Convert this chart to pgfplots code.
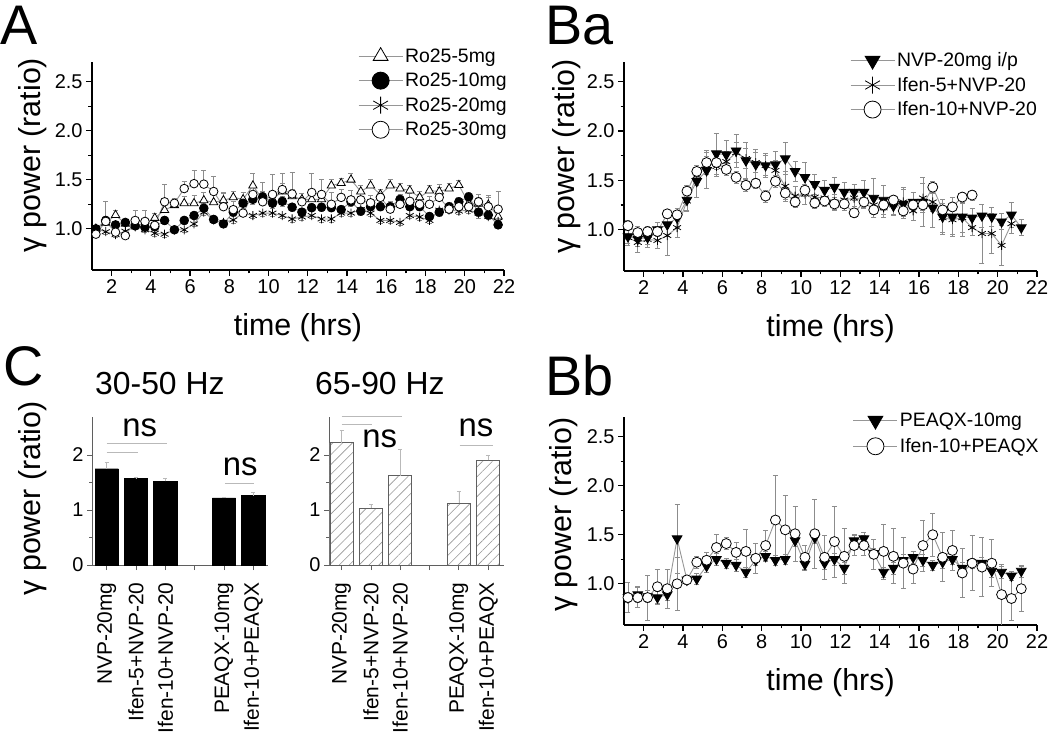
\documentclass[border=0pt]{standalone}
\usepackage{fontspec}
\setmainfont{Liberation Sans}
\usepackage{pgfplots}
\pgfplotsset{compat=1.18}
\usepackage{pgfplotstable}
\usetikzlibrary{patterns.meta}
\definecolor{lgray}{RGB}{150,150,150}
\definecolor{egray}{RGB}{140,140,140}
\definecolor{cgray}{RGB}{95,95,95}
\definecolor{vlgray}{RGB}{185,185,185}
\newcommand{\fs}[1]{\fontsize{#1}{#1}\selectfont}

% ---------------- Panel A ----------------
\pgfplotstableread{
x y e
1.2 1.00 0.04
1.7 1.06 0.05
2.2 1.14 0.05
2.7 1.05 0.05
3.2 1.04 0.06
3.7 1.05 0.06
4.2 1.11 0.05
4.7 1.19 0.06
5.2 1.24 0.06
5.7 1.26 0.07
6.2 1.26 0.08
6.7 1.29 0.08
7.2 1.27 0.08
7.7 1.29 0.07
8.2 1.32 0.06
8.7 1.30 0.07
9.2 1.44 0.12
9.7 1.30 0.08
10.2 1.30 0.07
10.7 1.38 0.08
11.2 1.33 0.07
11.7 1.30 0.06
12.2 1.30 0.07
12.7 1.30 0.08
13.2 1.44 0.06
13.7 1.465 0.05
14.2 1.50 0.06
14.7 1.38 0.06
15.2 1.44 0.06
15.7 1.35 0.05
16.2 1.44 0.06
16.7 1.41 0.05
17.2 1.39 0.05
17.7 1.32 0.06
18.2 1.39 0.05
18.7 1.38 0.07
19.2 1.41 0.05
19.7 1.445 0.05
20.2 1.26 0.06
20.7 1.255 0.07
21.2 1.245 0.08
21.7 1.125 0.06
}\roA
\pgfplotstableread{
x y e
1.2 1.00 0.03
1.7 1.085 0.04
2.2 1.04 0.03
2.7 1.065 0.03
3.2 1.03 0.03
3.7 1.015 0.03
4.2 1.02 0.03
4.7 1.085 0.04
5.2 0.99 0.03
5.7 1.085 0.04
6.2 1.135 0.04
6.7 1.21 0.05
7.2 1.095 0.04
7.7 1.05 0.04
8.2 1.17 0.04
8.7 1.26 0.05
9.2 1.30 0.05
9.7 1.325 0.05
10.2 1.26 0.05
10.7 1.28 0.05
11.2 1.22 0.04
11.7 1.17 0.04
12.2 1.215 0.04
12.7 1.22 0.04
13.2 1.215 0.04
13.7 1.195 0.04
14.2 1.275 0.05
14.7 1.18 0.04
15.2 1.225 0.04
15.7 1.225 0.04
16.2 1.225 0.04
16.7 1.30 0.05
17.2 1.225 0.04
17.7 1.225 0.04
18.2 1.125 0.04
18.7 1.17 0.04
19.2 1.225 0.04
19.7 1.275 0.05
20.2 1.325 0.05
20.7 1.17 0.06
21.2 1.14 0.04
21.7 1.04 0.04
}\roB
\pgfplotstableread{
x y e
1.2 1.00 0.03
1.7 0.97 0.03
2.2 0.94 0.03
2.7 0.975 0.03
3.2 1.02 0.03
3.7 0.99 0.03
4.2 0.955 0.03
4.7 0.945 0.03
5.2 0.99 0.03
5.7 0.99 0.03
6.2 1.05 0.03
6.7 1.17 0.03
7.2 1.09 0.03
7.7 1.065 0.03
8.2 1.09 0.03
8.7 1.16 0.03
9.2 1.135 0.03
9.7 1.16 0.03
10.2 1.16 0.03
10.7 1.135 0.03
11.2 1.10 0.03
11.7 1.12 0.03
12.2 1.135 0.03
12.7 1.10 0.03
13.2 1.10 0.03
13.7 1.16 0.03
14.2 1.16 0.03
14.7 1.195 0.03
15.2 1.16 0.03
15.7 1.085 0.03
16.2 1.085 0.03
16.7 1.065 0.03
17.2 1.135 0.03
17.7 1.12 0.03
18.2 1.085 0.03
18.7 1.19 0.03
19.2 1.19 0.03
19.7 1.18 0.03
20.2 1.19 0.03
20.7 1.16 0.03
21.2 1.125 0.03
21.7 1.075 0.03
}\roC
\pgfplotstableread{
x y e
1.2 0.945 0.05
1.7 1.075 0.20
2.2 0.965 0.05
2.7 0.93 0.05
3.2 1.085 0.10
3.7 1.075 0.11
4.2 1.035 0.05
4.7 1.275 0.18
5.2 1.26 0.05
5.7 1.41 0.07
6.2 1.46 0.14
6.7 1.455 0.14
7.2 1.38 0.15
7.7 1.225 0.15
8.2 1.195 0.08
8.7 1.16 0.05
9.2 1.35 0.10
9.7 1.275 0.20
10.2 1.35 0.20
10.7 1.40 0.17
11.2 1.355 0.22
11.7 1.275 0.05
12.2 1.37 0.20
12.7 1.35 0.15
13.2 1.25 0.12
13.7 1.32 0.08
14.2 1.295 0.10
14.7 1.295 0.07
15.2 1.265 0.08
15.7 1.32 0.05
16.2 1.20 0.08
16.7 1.25 0.10
17.2 1.28 0.08
17.7 1.25 0.10
18.2 1.25 0.08
18.7 1.32 0.10
19.2 1.20 0.05
19.7 1.225 0.05
20.2 1.225 0.08
20.7 1.275 0.08
21.2 1.225 0.12
21.7 1.20 0.18
}\roD

% ---------------- Panel Ba ----------------
\pgfplotstableread{
x y e
1.2 0.93 0.07
1.7 0.905 0.08
2.2 0.92 0.07
2.7 1.00 0.07
3.2 1.05 0.12
3.7 1.12 0.10
4.2 1.30 0.10
4.7 1.49 0.16
5.2 1.60 0.18
5.7 1.77 0.21
6.2 1.76 0.15
6.7 1.80 0.17
7.2 1.70 0.18
7.7 1.66 0.15
8.2 1.65 0.12
8.7 1.66 0.13
9.2 1.72 0.16
9.7 1.59 0.10
10.2 1.53 0.15
10.7 1.46 0.10
11.2 1.40 0.10
11.7 1.43 0.10
12.2 1.38 0.10
12.7 1.38 0.08
13.2 1.38 0.12
13.7 1.32 0.20
14.2 1.30 0.15
14.7 1.24 0.10
15.2 1.26 0.15
15.7 1.28 0.10
16.2 1.28 0.25
16.7 1.22 0.20
17.2 1.13 0.18
17.7 1.13 0.20
18.2 1.13 0.20
18.7 1.12 0.10
19.2 1.14 0.12
19.7 1.13 0.10
20.2 1.08 0.08
20.7 1.15 0.13
21.2 1.02 0.08
}\nvp
\pgfplotstableread{
x y e
1.2 0.92 0.08
1.7 0.87 0.10
2.2 0.90 0.08
2.7 0.89 0.08
3.2 0.94 0.20
3.7 1.02 0.10
4.2 1.29 0.10
4.7 1.55 0.10
5.2 1.68 0.12
5.7 1.64 0.10
6.2 1.69 0.10
6.7 1.78 0.10
7.2 1.72 0.10
7.7 1.68 0.10
8.2 1.65 0.10
8.7 1.60 0.10
9.2 1.44 0.15
9.7 1.34 0.10
10.2 1.36 0.10
10.7 1.33 0.10
11.2 1.32 0.08
11.7 1.28 0.08
12.2 1.30 0.08
12.7 1.32 0.08
13.2 1.30 0.08
13.7 1.25 0.10
14.2 1.22 0.10
14.7 1.25 0.10
15.2 1.28 0.15
15.7 1.19 0.10
16.2 1.32 0.15
16.7 1.28 0.10
17.2 1.12 0.15
17.7 1.10 0.15
18.2 1.12 0.15
18.7 1.02 0.08
19.2 0.96 0.30
19.7 0.96 0.20
20.2 0.84 0.20
20.7 1.06 0.10
}\ifenfive
\pgfplotstableread{
x y e
1.2 1.04 0.05
1.7 0.97 0.06
2.2 0.98 0.05
2.7 0.98 0.05
3.2 1.16 0.05
3.7 1.15 0.05
4.2 1.39 0.06
4.7 1.59 0.06
5.2 1.68 0.06
5.7 1.68 0.07
6.2 1.61 0.06
6.7 1.53 0.06
7.2 1.45 0.06
7.7 1.47 0.05
8.2 1.34 0.06
8.7 1.49 0.06
9.2 1.37 0.06
9.7 1.28 0.05
10.2 1.40 0.06
10.7 1.27 0.05
11.2 1.29 0.05
11.7 1.26 0.05
12.2 1.26 0.06
12.7 1.17 0.05
13.2 1.28 0.05
13.7 1.20 0.05
14.2 1.25 0.05
14.7 1.30 0.05
15.2 1.19 0.05
15.7 1.25 0.05
16.2 1.25 0.05
16.7 1.43 0.06
17.2 1.20 0.05
17.7 1.23 0.05
18.2 1.33 0.05
18.7 1.35 0.05
}\ifenten

% ---------------- Panel Bb ----------------
\pgfplotstableread{
x y e
1.2 0.86 0.05
1.7 0.89 0.08
2.2 0.87 0.06
2.7 0.86 0.06
3.2 0.89 0.06
3.7 1.46 0.35
4.2 1.04 0.04
4.7 1.05 0.06
5.2 1.18 0.06
5.7 1.25 0.06
6.2 1.21 0.05
6.7 1.19 0.06
7.2 1.12 0.05
7.7 1.24 0.05
8.2 1.28 0.05
8.7 1.24 0.05
9.2 1.25 0.05
9.7 1.44 0.06
10.2 1.20 0.06
10.7 1.47 0.06
11.2 1.21 0.06
11.7 1.25 0.06
12.2 1.16 0.06
12.7 1.44 0.06
13.2 1.46 0.06
13.7 1.31 0.05
14.2 1.12 0.05
14.7 1.16 0.06
15.2 1.24 0.06
15.7 1.27 0.06
16.2 1.24 0.06
16.7 1.19 0.05
17.2 1.22 0.06
17.7 1.25 0.05
18.2 1.16 0.06
18.7 1.21 0.05
19.2 1.21 0.06
19.7 1.13 0.06
20.2 1.12 0.06
20.7 1.08 0.05
21.2 1.13 0.06
}\peaqx
\pgfplotstableread{
x y e
1.2 0.86 0.15
1.7 0.86 0.10
2.2 0.86 0.23
2.7 0.97 0.18
3.2 0.95 0.20
3.7 1.00 0.27
4.2 1.04 0.05
4.7 1.22 0.06
5.2 1.24 0.08
5.7 1.37 0.13
6.2 1.41 0.06
6.7 1.32 0.10
7.2 1.33 0.22
7.7 1.26 0.15
8.2 1.39 0.15
8.7 1.65 0.46
9.2 1.55 0.35
9.7 1.51 0.28
10.2 1.27 0.12
10.7 1.51 0.35
11.2 1.27 0.22
11.7 1.43 0.36
12.2 1.28 0.28
12.7 1.39 0.10
13.2 1.39 0.10
13.7 1.30 0.15
14.2 1.33 0.28
14.7 1.28 0.28
15.2 1.21 0.26
15.7 1.15 0.15
16.2 1.39 0.26
16.7 1.50 0.22
17.2 1.27 0.25
17.7 1.34 0.20
18.2 1.11 0.25
18.7 1.21 0.28
19.2 1.17 0.30
19.7 1.21 0.24
20.2 0.89 0.31
20.7 0.85 0.22
21.2 0.95 0.23
}\ifenpeaqx

% ---------------- Panel C ----------------
\pgfplotstableread{
x y e
1 1.75 0.12
2 1.57 0.03
3 1.52 0.05
5 1.22 0.01
6 1.26 0.06
}\lowgamma
\pgfplotstableread{
x y e
1 2.22 0.22
2 1.03 0.07
3 1.62 0.48
5 1.12 0.22
6 1.90 0.10
}\highgamma

\pgfplotsset{
  base/.style={
    scale only axis,
    axis x line*=bottom, axis y line*=left,
    axis line style={-, line width=1.5bp, black},
    tick align=outside,
    major tick length=6bp, minor tick length=3.5bp,
    every tick/.style={black, line width=1.2bp},
    /pgf/number format/assume math mode=true,
    tick label style={font=\fs{20}},
    label style={font=\fs{30.5}},
  },
  tcstyle/.style={
    base,
    xmin=1, xmax=22, ymin=0.58, ymax=2.7,
    xtick={2,4,...,22}, minor x tick num=1,
    ytick={1,1.5,2,2.5}, minor y tick num=1,
    yticklabel style={/pgf/number format/.cd, fixed, fixed zerofill, precision=1},
    xlabel={time (hrs)},
    ylabel={γ power (ratio)},
    xlabel style={at={(axis description cs:0.5,-0.315)}, anchor=base},
    legend cell align=left,
    legend image code/.code={\draw[mark repeat=2,mark phase=2,##1,mark size=8.5bp] plot coordinates {(0bp,0bp)(22bp,0bp)(44bp,0bp)};},
  },
  cstyle/.style={
    base,
    axis line style={-, line width=1bp, cgray},
    every tick/.style={cgray, line width=0.8bp},
    major tick length=5bp, minor tick length=3bp,
    ymin=0, ymax=2.69,
    ytick={0,1,2}, minor y tick num=1,
    xtick={1,...,6},
    xticklabels={NVP-20mg, Ifen-5+NVP-20, Ifen-10+NVP-20, , PEAQX-10mg, Ifen-10+PEAQX},
    xticklabel style={rotate=90, anchor=east, font=\fs{21}},
    xticklabel shift={9bp},
    clip=false,
  },
  ln/.style={draw=lgray, line width=0.9bp},
  ebars/.style={error bars/.cd, y dir=#1, y explicit,
    error bar style={egray, line width=0.7bp},
    error mark options={rotate=90, egray, mark size=2.5bp, line width=0.7bp}},
  mopentri/.style={mark=triangle*, mark size=4.8bp, mark options={fill=white, draw=black, line width=0.8bp}},
  mfillcirc/.style={mark=*, mark size=4.3bp, mark options={fill=black, draw=black}},
  mast/.style={mark=asterisk, mark size=4.5bp, mark options={draw=black, line width=0.8bp}},
  mopencirc/.style={mark=*, mark size=4.3bp, mark options={fill=white, draw=black, line width=0.8bp}},
  mdowntri/.style={mark=triangle*, mark size=5.5bp, mark options={rotate=180, fill=black, draw=black}},
}

\begin{document}
\begin{tikzpicture}
\path[use as bounding box] (0bp,0bp) rectangle (1050bp,736bp);

% panel letters and titles
\node[anchor=base west, inner sep=0pt, font=\fs{56}] at (0bp,691bp) {A};
\node[anchor=base west, inner sep=0pt, font=\fs{56}] at (545bp,691bp) {Ba};
\node[anchor=base west, inner sep=0pt, font=\fs{56}] at (3bp,350bp) {C};
\node[anchor=base west, inner sep=0pt, font=\fs{56}] at (545bp,340bp) {Bb};
\node[anchor=base west, inner sep=0pt, font=\fs{32}] at (95bp,341bp) {30-50 Hz};
\node[anchor=base west, inner sep=0pt, font=\fs{32}] at (315bp,341bp) {65-90 Hz};

% ---------------- A ----------------
\begin{axis}[tcstyle, at={(92bp,466bp)}, anchor=south west, width=412bp, height=208bp,
  ylabel style={at={(axis description cs:-0.143,0.553)}, anchor=center},
  legend style={draw=none, fill=none, at={(0.6456,1.075)}, anchor=north west,
    font=\fs{19.5}, inner sep=0pt, row sep=5.5bp,
    /tikz/every even column/.append style={column sep=4bp}}]
\addplot[ln, mopentri, ebars=plus] table[x=x, y=y, y error=e] {\roA};
\addlegendentry{Ro25-5mg}
\addplot[ln, mfillcirc, ebars=both] table[x=x, y=y, y error=e] {\roB};
\addlegendentry{Ro25-10mg}
\addplot[ln, mast, ebars=minus] table[x=x, y=y, y error=e] {\roC};
\addlegendentry{Ro25-20mg}
\addplot[ln, mopencirc, ebars=plus] table[x=x, y=y, y error=e] {\roD};
\addlegendentry{Ro25-30mg}
\end{axis}

% ---------------- Ba ----------------
\begin{axis}[tcstyle, at={(624bp,465bp)}, anchor=south west, width=413bp, height=209bp,
  ylabel style={at={(axis description cs:-0.140,0.55)}, anchor=center},
  legend style={draw=none, fill=none, at={(0.547,1.055)}, anchor=north west,
    font=\fs{19.5}, inner sep=0pt, row sep=5bp,
    /tikz/every even column/.append style={column sep=4bp}}]
\addplot[ln, mdowntri, ebars=both] table[x=x, y=y, y error=e] {\nvp};
\addlegendentry{NVP-20mg i/p}
\addplot[ln, mast, ebars=both] table[x=x, y=y, y error=e] {\ifenfive};
\addlegendentry{Ifen-5+NVP-20}
\addplot[ln, mopencirc, mark size=5bp, ebars=both] table[x=x, y=y, y error=e] {\ifenten};
\addlegendentry{Ifen-10+NVP-20}
\end{axis}

% ---------------- Bb ----------------
\begin{axis}[tcstyle, at={(624bp,111bp)}, anchor=south west, width=413bp, height=208bp,
  ylabel style={at={(axis description cs:-0.145,0.53)}, anchor=center},
  legend style={draw=none, fill=none, at={(0.554,1.03)}, anchor=north west,
    font=\fs{19.5}, inner sep=0pt, row sep=6.5bp,
    /tikz/every even column/.append style={column sep=4bp}}]
\addplot[ln, mdowntri, ebars=both] table[x=x, y=y, y error=e] {\peaqx};
\addlegendentry{PEAQX-10mg}
\addplot[ln, mopencirc, mark size=5bp, ebars=both] table[x=x, y=y, y error=e] {\ifenpeaqx};
\addlegendentry{Ifen-10+PEAQX}
\end{axis}

% ---------------- C left ----------------
\begin{axis}[cstyle, at={(92bp,171bp)}, anchor=south west, width=176bp, height=148bp,
  xmin=0.5, xmax=6.5,
  ylabel={γ power (ratio)},
  ylabel style={at={(axis description cs:-0.335,0.45)}, anchor=center}]
\addplot[ybar, bar width=23.3bp, fill=black, draw=black,
  error bars/.cd, y dir=plus, y explicit,
  error bar style={vlgray, line width=0.7bp},
  error mark options={rotate=90, vlgray, mark size=2bp, line width=0.7bp}]
  table[x=x, y=y, y error=e] {\lowgamma};
\draw[vlgray, line width=1bp] (axis cs:1,2.2) -- (axis cs:3.06,2.2);
\draw[vlgray, line width=1bp] (axis cs:1,2.05) -- (axis cs:2.07,2.05);
\draw[vlgray, line width=1bp] (axis cs:5.03,1.49) -- (axis cs:6.03,1.49);
\node[anchor=base, font=\fs{33}, inner sep=0pt] at (axis cs:2.13,2.33) {ns};
\node[anchor=base, font=\fs{33}, inner sep=0pt] at (axis cs:5.55,1.62) {ns};
\end{axis}

% ---------------- C right ----------------
\begin{axis}[cstyle, at={(329bp,171bp)}, anchor=south west, width=175bp, height=148bp,
  xmin=0.57, xmax=6.54]
\addplot[ybar, bar width=23.3bp, fill=white, draw=cgray, line width=0.9bp,
  postaction={pattern={Lines[angle=45, distance=7bp, line width=0.6bp]}, pattern color=lgray},
  error bars/.cd, y dir=plus, y explicit,
  error bar style={vlgray, line width=0.7bp},
  error mark options={rotate=90, vlgray, mark size=2bp, line width=0.7bp}]
  table[x=x, y=y, y error=e] {\highgamma};
\draw[vlgray, line width=1bp] (axis cs:1,2.69) -- (axis cs:3.05,2.69);
\draw[vlgray, line width=1bp] (axis cs:1,2.55) -- (axis cs:2.03,2.55);
\draw[vlgray, line width=1bp] (axis cs:5.03,2.18) -- (axis cs:6.16,2.18);
\node[anchor=base, font=\fs{33}, inner sep=0pt] at (axis cs:2.3,2.13) {ns};
\node[anchor=base, font=\fs{33}, inner sep=0pt] at (axis cs:5.58,2.33) {ns};
\end{axis}
\end{tikzpicture}
\end{document}
